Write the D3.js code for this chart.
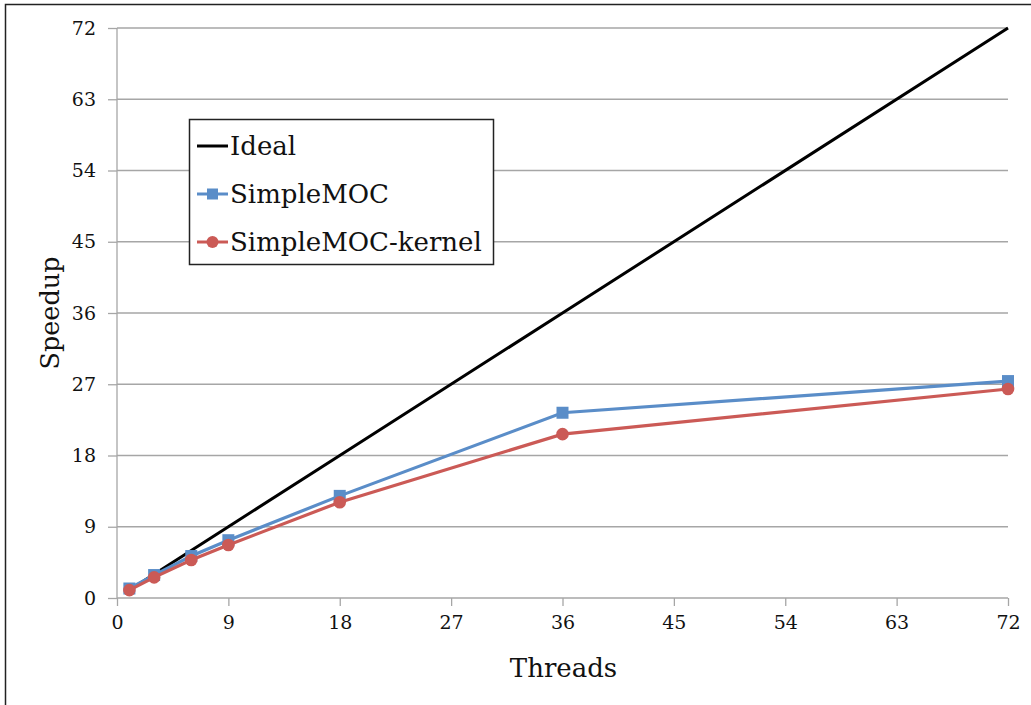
<!DOCTYPE html>
<html><head><meta charset="utf-8">
<script src="https://cdn.jsdelivr.net/npm/d3@7"></script>
<style>body{margin:0;background:#fff}svg{display:block}</style>
</head><body>
<svg id="c" width="1031" height="705"></svg>
<script>
const threads = [1, 3, 6, 9, 18, 36, 72];
const ideal = [1, 3, 6, 9, 18, 36, 72];
const simpleMOC = [1.2, 2.9, 5.3, 7.3, 12.9, 23.4, 27.4];
const simpleMOCKernel = [1.0, 2.6, 4.8, 6.7, 12.1, 20.7, 26.4];
const xTicks = [0, 9, 18, 27, 36, 45, 54, 63, 72];
const yTicks = [0, 9, 18, 27, 36, 45, 54, 63, 72];
const seriesNames = ["Ideal", "SimpleMOC", "SimpleMOC-kernel"];

const font = "'DejaVu Serif', serif";
const svg = d3.select("#c");
svg.append("rect").attr("x", 5.5).attr("y", 4.5).attr("width", 1040).attr("height", 720)
  .attr("fill", "#fff").attr("stroke", "#222").attr("stroke-width", 1.5);

const x = d3.scaleLinear().domain([0, 72]).range([117, 1008]);
const y = d3.scaleLinear().domain([0, 72]).range([598, 28]);

// gridlines
svg.append("g").selectAll("line").data(yTicks.filter(d => d > 0)).join("line")
  .attr("x1", x(0)).attr("x2", x(72)).attr("y1", d => y(d)).attr("y2", d => y(d))
  .attr("stroke", "#a6a6a6").attr("stroke-width", 1.3);

const yAxis = svg.append("g").attr("transform", `translate(${x(0)},0)`)
  .call(d3.axisLeft(y).tickValues(yTicks).tickSize(9).tickPadding(12));
const xAxis = svg.append("g").attr("transform", `translate(0,${y(0)})`)
  .call(d3.axisBottom(x).tickValues(xTicks).tickSize(8).tickPadding(10));
[yAxis, xAxis].forEach(a => {
  a.selectAll("path,line").attr("stroke", "#a6a6a6").attr("stroke-width", 1.3);
  a.select(".domain").attr("d", a === yAxis ? `M0,${y(72)}V${y(0)}` : `M${x(0)},0H${x(72)}`);
  a.selectAll("text").attr("fill", "#111").style("font-family", font).style("font-size", "19px");
});

const blue = "#5a8dc8", red = "#cb5a56";
const line = d3.line().x(d => x(d[0])).y(d => y(d[1]));
const mk = vals => threads.map((t, i) => [t, vals[i]]);

svg.append("path").datum(mk(ideal)).attr("d", line).attr("fill", "none")
  .attr("stroke", "#000").attr("stroke-width", 3);
svg.append("path").datum(mk(simpleMOC)).attr("d", line).attr("fill", "none")
  .attr("stroke", blue).attr("stroke-width", 3.2);
svg.append("g").selectAll("rect").data(mk(simpleMOC)).join("rect")
  .attr("x", d => x(d[0]) - 6).attr("y", d => y(d[1]) - 6).attr("width", 12).attr("height", 12)
  .attr("fill", blue);
svg.append("path").datum(mk(simpleMOCKernel)).attr("d", line).attr("fill", "none")
  .attr("stroke", red).attr("stroke-width", 3.2);
svg.append("g").selectAll("circle").data(mk(simpleMOCKernel)).join("circle")
  .attr("cx", d => x(d[0])).attr("cy", d => y(d[1])).attr("r", 6.3)
  .attr("fill", red);

// axis titles
svg.append("text").attr("x", (x(0) + x(72)) / 2 + 1).attr("y", 677).attr("text-anchor", "middle")
  .style("font-family", font).style("font-size", "26px").attr("fill", "#111").text("Threads");
svg.append("text").attr("transform", `translate(59,${y(36)}) rotate(-90)`).attr("text-anchor", "middle")
  .style("font-family", font).style("font-size", "25.5px").attr("fill", "#111").text("Speedup");

// legend
const lg = svg.append("g");
lg.append("rect").attr("x", 189.5).attr("y", 119.5).attr("width", 304).attr("height", 145)
  .attr("fill", "#fff").attr("stroke", "#222").attr("stroke-width", 1.5);
const colors = ["#000", blue, red];
const rowsY = [146, 194, 242];
seriesNames.forEach((n, i) => {
  const yy = rowsY[i];
  lg.append("line").attr("x1", 197).attr("x2", 228).attr("y1", yy).attr("y2", yy)
    .attr("stroke", colors[i]).attr("stroke-width", 3);
  if (i === 1) lg.append("rect").attr("x", 207).attr("y", yy - 5.5).attr("width", 11).attr("height", 11).attr("fill", colors[i]);
  if (i === 2) lg.append("circle").attr("cx", 212.5).attr("cy", yy).attr("r", 6).attr("fill", colors[i]);
  lg.append("text").attr("x", 230).attr("y", yy + 9).style("font-family", font).style("font-size", "26px")
    .attr("fill", "#111").text(n);
});
</script>
</body></html>
